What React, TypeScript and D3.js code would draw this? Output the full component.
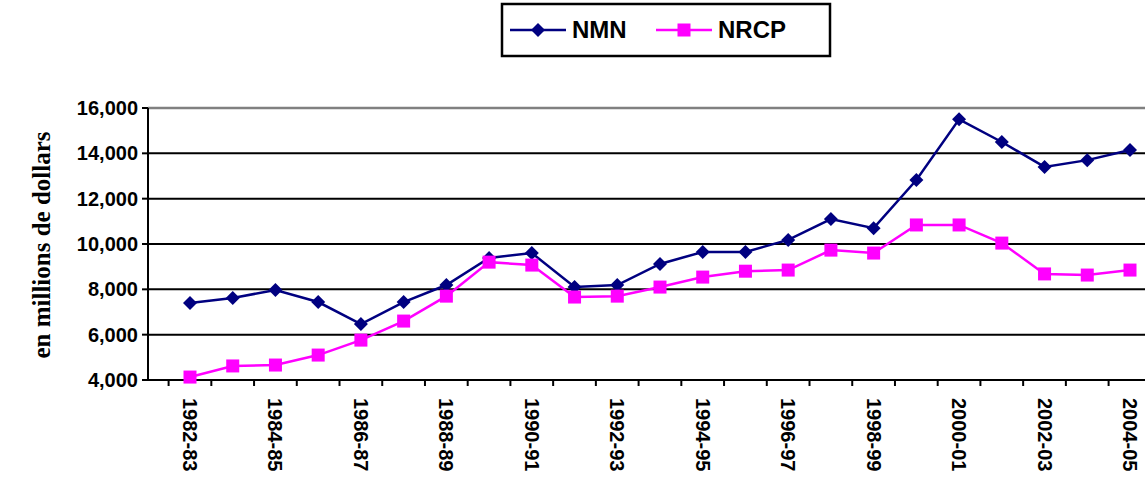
import React from "react";
import * as d3 from "d3";

const years = [
  "1982-83", "1983-84", "1984-85", "1985-86", "1986-87", "1987-88", "1988-89", "1989-90",
  "1990-91", "1991-92", "1992-93", "1993-94", "1994-95", "1995-96", "1996-97", "1997-98",
  "1998-99", "1999-00", "2000-01", "2001-02", "2002-03", "2003-04", "2004-05",
];
const nmn = [7400, 7620, 7970, 7440, 6470, 7440, 8190, 9380, 9600, 8100, 8190, 9120, 9650, 9650, 10180, 11100, 10700, 12820, 15500, 14500, 13400, 13700, 14150];
const nrcp = [4130, 4620, 4660, 5100, 5760, 6600, 7700, 9200, 9070, 7660, 7700, 8100, 8540, 8800, 8850, 9730, 9600, 10840, 10840, 10040, 8680, 8630, 8850];
const yTicks = [4000, 6000, 8000, 10000, 12000, 14000, 16000];

const W = 1145, H = 499;
const x = d3.scaleLinear().domain([0, 22]).range([190, 1130]);
const y = d3.scaleLinear().domain([4000, 16000]).range([380, 108]);
const line = d3.line<number>().x((_, i) => x(i)).y((d) => y(d));
const font = "Arial, 'Liberation Sans', sans-serif";
const navy = "#000080";
const pink = "#ff00ff";

const Diamond = ({ cx, cy }: { cx: number; cy: number }) => (
  <path d={`M${cx},${cy - 7}L${cx + 7},${cy}L${cx},${cy + 7}L${cx - 7},${cy}Z`} fill={navy} />
);
const Square = ({ cx, cy }: { cx: number; cy: number }) => (
  <rect x={cx - 6.5} y={cy - 6.5} width={13} height={13} fill={pink} />
);

export default function App() {
  return (
    <svg width={W} height={H} style={{ position: "absolute", left: 0, top: 0, background: "#fff" }}>
      {yTicks.map((t) => (
        <g key={t}>
          <line x1={148} x2={W} y1={y(t)} y2={y(t)} stroke={t === 16000 ? "#808080" : "#000"} strokeWidth={t === 16000 ? 2.5 : 2} />
          <line x1={142} x2={148} y1={y(t)} y2={y(t)} stroke="#000" strokeWidth={2} />
          <text x={138} y={y(t)} dy="0.35em" textAnchor="end" fontFamily={font} fontWeight="bold" fontSize={20}>
            {d3.format(",")(t)}
          </text>
        </g>
      ))}
      <line x1={148} x2={148} y1={108} y2={380} stroke="#000" strokeWidth={2} />
      {years.map((yr, i) => (
        <g key={yr}>
          <line x1={x(i) - 21.4} x2={x(i) - 21.4} y1={380} y2={386} stroke="#000" strokeWidth={2} />
          {i % 2 === 0 && (
            <text transform={`translate(${x(i)},398) rotate(90)`} dy="0.35em" fontFamily={font} fontWeight="bold" fontSize={20}>
              {yr}
            </text>
          )}
        </g>
      ))}
      <path d={line(nmn) || ""} fill="none" stroke={navy} strokeWidth={2.5} />
      <path d={line(nrcp) || ""} fill="none" stroke={pink} strokeWidth={2.5} />
      {nmn.map((v, i) => <Diamond key={"a" + i} cx={x(i)} cy={y(v)} />)}
      {nrcp.map((v, i) => <Square key={"b" + i} cx={x(i)} cy={y(v)} />)}
      <text transform="translate(50,245) rotate(-90)" textAnchor="middle" fontFamily="'Liberation Serif', 'Times New Roman', serif" fontWeight="bold" fontSize={25}>
        en millions de dollars
      </text>
      <rect x={502} y={4} width={328} height={52} fill="#fff" stroke="#000" strokeWidth={2.5} />
      <line x1={510} x2={566} y1={30} y2={30} stroke={navy} strokeWidth={2.5} />
      <Diamond cx={538} cy={30} />
      <text x={572} y={30} dy="0.35em" fontFamily={font} fontWeight="bold" fontSize={24}>NMN</text>
      <line x1={656} x2={712} y1={30} y2={30} stroke={pink} strokeWidth={2.5} />
      <Square cx={684} cy={30} />
      <text x={718} y={30} dy="0.35em" fontFamily={font} fontWeight="bold" fontSize={24}>NRCP</text>
    </svg>
  );
}
